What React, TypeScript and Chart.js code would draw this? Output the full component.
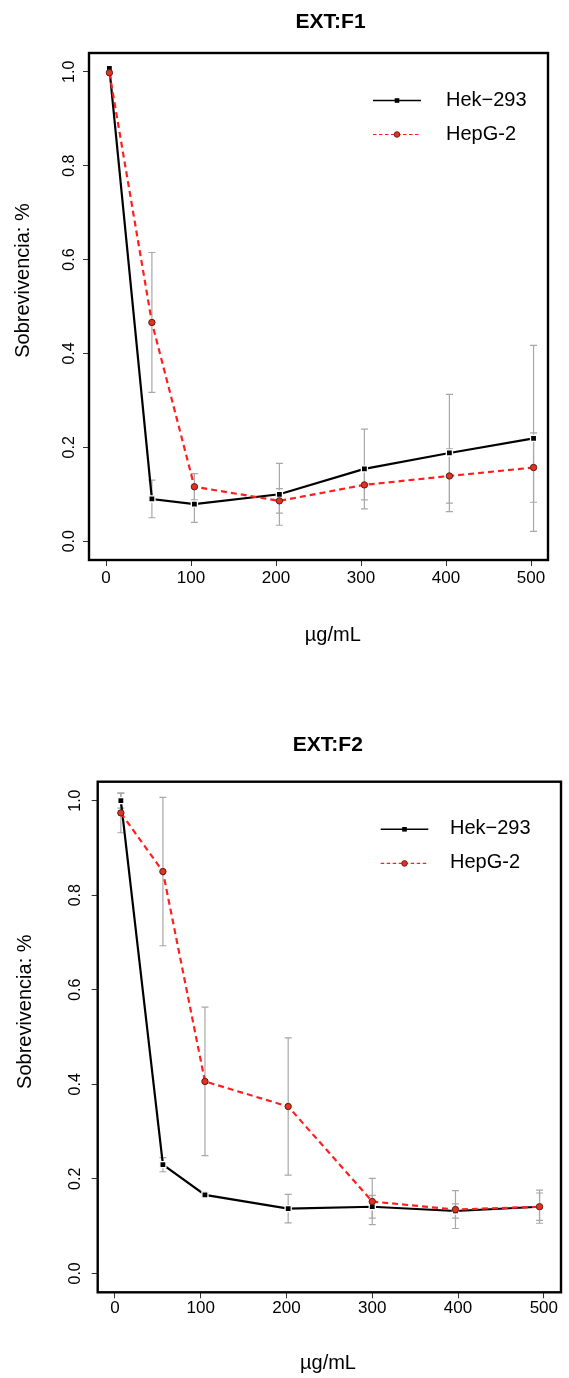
import React, { useEffect, useRef } from 'react';
import { Chart, registerables } from 'chart.js';

Chart.register(...registerables);

// ---------- data ----------
const xTickValues = [0, 100, 200, 300, 400, 500];
const yTickValues = [0, 0.2, 0.4, 0.6, 0.8, 1.0];
const seriesNames = ['Hek\u2212293', 'HepG-2'];

const f1Doses = [4, 54, 104, 204, 304, 404, 503];
const f1Hek = [1.007, 0.09, 0.079, 0.1, 0.154, 0.188, 0.219];
const f1HekErr = [0, 0.04, 0.039, 0.066, 0.085, 0.125, 0.198];
const f1Hep = [0.998, 0.466, 0.116, 0.086, 0.12, 0.139, 0.157];
const f1HepErr = [0, 0.149, 0.028, 0.026, 0.032, 0.058, 0.074];

const f2Doses = [7, 56, 105, 202, 300, 397, 495];
const f2Hek = [1.0, 0.23, 0.166, 0.137, 0.141, 0.132, 0.141];
const f2HekErr = [0.016, 0.015, 0.005, 0.03, 0.024, 0.015, 0.029];
const f2Hep = [0.974, 0.85, 0.406, 0.353, 0.152, 0.135, 0.141];
const f2HepErr = [0.042, 0.157, 0.157, 0.145, 0.049, 0.04, 0.035];

const FONT = "'Liberation Sans', Arial, Helvetica, sans-serif";
const W = 569;

type Layout = {
  height: number;
  area: { left: number; top: number; right: number; bottom: number };
  title: string;
  titlePos: [number, number];
  xTitlePos: [number, number];
  yTitlePos: [number, number];
  legend: { x1: number; x2: number; y: [number, number]; textX: number };
  xPad: number;
  yPad: number;
};

const layout1: Layout = {
  height: 690,
  area: { left: 89, top: 53, right: 548, bottom: 560 },
  title: 'EXT:F1',
  titlePos: [330.6, 22],
  xTitlePos: [332.8, 635.6],
  yTitlePos: [23.5, 280.5],
  legend: { x1: 373, x2: 421, y: [100.5, 134.5], textX: 446 },
  xPad: 2,
  yPad: 2.5,
};

const layout2: Layout = {
  height: 688,
  area: { left: 97.7, top: 91.7, right: 561, bottom: 602.3 },
  title: 'EXT:F2',
  titlePos: [327.8, 55],
  xTitlePos: [328, 673],
  yTitlePos: [25.5, 321.7],
  legend: { x1: 380.7, x2: 428.3, y: [139.3, 173.4], textX: 450 },
  xPad: 0,
  yPad: 5,
};

const RED = '#ff1f1f';
const ERR = '#a8a8a8';

function Panel(props: {
  lay: Layout;
  doses: number[];
  hek: number[];
  hekErr: number[];
  hep: number[];
  hepErr: number[];
}) {
  const ref = useRef<HTMLCanvasElement | null>(null);
  const { lay, doses, hek, hekErr, hep, hepErr } = props;

  useEffect(() => {
    if (!ref.current) return;
    const errs = [hekErr, hepErr];
    const decor = {
      id: 'decor',
      beforeDatasetsDraw(chart: any) {
        const { ctx } = chart;
        const xs = chart.scales.x;
        const ys = chart.scales.y;
        ctx.save();
        ctx.strokeStyle = ERR;
        ctx.lineWidth = 1.2;
        chart.data.datasets.forEach((ds: any, di: number) => {
          ds.data.forEach((pt: any, i: number) => {
            const e = errs[di][i];
            if (!e) return;
            const px = xs.getPixelForValue(pt.x);
            const t = ys.getPixelForValue(pt.y + e);
            const b = ys.getPixelForValue(pt.y - e);
            ctx.beginPath();
            ctx.moveTo(px, t);
            ctx.lineTo(px, b);
            ctx.moveTo(px - 3.5, t);
            ctx.lineTo(px + 3.5, t);
            ctx.moveTo(px - 3.5, b);
            ctx.lineTo(px + 3.5, b);
            ctx.stroke();
          });
        });
        ctx.restore();
      },
      afterDraw(chart: any) {
        const { ctx, chartArea: a } = chart;
        ctx.save();
        // box
        ctx.strokeStyle = '#000';
        ctx.lineWidth = 2.4;
        ctx.strokeRect(a.left, a.top, a.right - a.left, a.bottom - a.top);
        // title
        ctx.fillStyle = '#000';
        ctx.textAlign = 'center';
        ctx.textBaseline = 'middle';
        ctx.font = `bold 21px ${FONT}`;
        ctx.fillText(lay.title, lay.titlePos[0], lay.titlePos[1]);
        // axis titles
        ctx.font = `20px ${FONT}`;
        ctx.fillText('\u00b5g/mL', lay.xTitlePos[0], lay.xTitlePos[1]);
        ctx.save();
        ctx.translate(lay.yTitlePos[0], lay.yTitlePos[1]);
        ctx.rotate(-Math.PI / 2);
        ctx.fillText('Sobrevivencia: %', 0, 0);
        ctx.restore();
        // legend
        const L = lay.legend;
        const mx = (L.x1 + L.x2) / 2;
        ctx.setLineDash([]);
        ctx.strokeStyle = '#000';
        ctx.lineWidth = 1.6;
        ctx.beginPath();
        ctx.moveTo(L.x1, L.y[0]);
        ctx.lineTo(L.x2, L.y[0]);
        ctx.stroke();
        ctx.fillStyle = '#000';
        ctx.fillRect(mx - 2.3, L.y[0] - 2.3, 4.6, 4.6);
        ctx.strokeStyle = RED;
        ctx.lineWidth = 1.2;
        ctx.setLineDash([3.5, 2.5]);
        ctx.beginPath();
        ctx.moveTo(L.x1, L.y[1]);
        ctx.lineTo(L.x2, L.y[1]);
        ctx.stroke();
        ctx.setLineDash([]);
        ctx.beginPath();
        ctx.arc(mx, L.y[1], 2.8, 0, Math.PI * 2);
        ctx.fillStyle = '#e3321f';
        ctx.fill();
        ctx.strokeStyle = '#5a1f18';
        ctx.lineWidth = 0.9;
        ctx.stroke();
        ctx.fillStyle = '#000';
        ctx.textAlign = 'left';
        ctx.font = `20px ${FONT}`;
        ctx.fillText(seriesNames[0], L.textX, L.y[0] - 0.5);
        ctx.fillText(seriesNames[1], L.textX, L.y[1] - 0.5);
        ctx.restore();
      },
    };

    const gridOpts = {
      display: true,
      drawOnChartArea: false,
      drawTicks: true,
      tickLength: 6,
      tickColor: '#333',
      tickWidth: 1,
    };

    const chart = new Chart(ref.current, {
      type: 'line',
      data: {
        datasets: [
          {
            label: seriesNames[0],
            data: doses.map((d, i) => ({ x: d, y: hek[i] })),
            borderColor: '#000',
            borderWidth: 2.2,
            pointStyle: 'rect',
            pointRadius: 4.3,
            pointBackgroundColor: '#000',
            pointBorderColor: '#fff',
            pointBorderWidth: 1.3,
            tension: 0,
            order: 2,
          },
          {
            label: seriesNames[1],
            data: doses.map((d, i) => ({ x: d, y: hep[i] })),
            borderColor: RED,
            borderWidth: 2.2,
            borderDash: [6, 4],
            pointStyle: 'circle',
            pointRadius: 3.2,
            pointBackgroundColor: '#e3321f',
            pointBorderColor: '#5a1f18',
            pointBorderWidth: 1,
            tension: 0,
            order: 1,
          },
        ],
      },
      options: {
        animation: false,
        responsive: false,
        maintainAspectRatio: false,
        layout: {
          padding: { left: 0, top: lay.area.top, right: W - lay.area.right, bottom: 0 },
        },
        plugins: {
          legend: { display: false },
          tooltip: { enabled: false },
          title: { display: false },
        },
        scales: {
          x: {
            type: 'linear',
            min: -20,
            max: 520,
            afterBuildTicks: (s: any) => {
              s.ticks = xTickValues.map((v) => ({ value: v }));
            },
            afterFit: (s: any) => {
              s.height = lay.height - lay.area.bottom;
            },
            grid: gridOpts,
            border: { display: false },
            ticks: {
              autoSkip: false,
              maxRotation: 0,
              minRotation: 0,
              padding: lay.xPad,
              color: '#000',
              font: { size: 17, family: FONT },
              callback: (v: any) => String(v),
            },
          },
          y: {
            type: 'linear',
            min: -0.04,
            max: 1.04,
            afterBuildTicks: (s: any) => {
              s.ticks = yTickValues.map((v) => ({ value: v }));
            },
            afterFit: (s: any) => {
              s.width = lay.area.left;
            },
            grid: gridOpts,
            border: { display: false },
            ticks: {
              autoSkip: false,
              minRotation: 90,
              maxRotation: 90,
              crossAlign: 'center',
              padding: lay.yPad,
              color: '#000',
              font: { size: 16, family: FONT },
              callback: (v: any) => Number(v).toFixed(1),
            },
          },
        },
      },
      plugins: [decor],
    } as any);
    return () => chart.destroy();
  }, [lay, doses, hek, hekErr, hep, hepErr]);

  return (
    <canvas
      ref={ref}
      width={W}
      height={lay.height}
      style={{ display: 'block', width: W, height: lay.height }}
    />
  );
}

export default function App() {
  return (
    <div style={{ position: 'absolute', left: 0, top: 0, width: W, background: '#fff' }}>
      <Panel lay={layout1} doses={f1Doses} hek={f1Hek} hekErr={f1HekErr} hep={f1Hep} hepErr={f1HepErr} />
      <Panel lay={layout2} doses={f2Doses} hek={f2Hek} hekErr={f2HekErr} hep={f2Hep} hepErr={f2HepErr} />
    </div>
  );
}
